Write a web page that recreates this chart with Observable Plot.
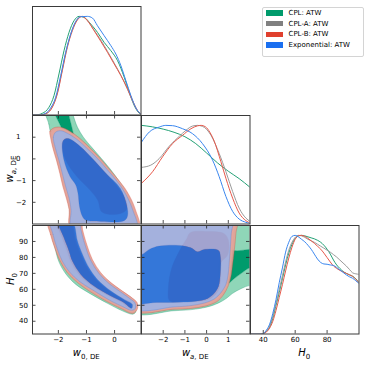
<!DOCTYPE html>
<html><head><meta charset="utf-8">
<script src="https://cdn.jsdelivr.net/npm/d3@7"></script>
<script src="https://cdn.jsdelivr.net/npm/@observablehq/plot@0.6"></script>
<style>
html,body{margin:0;padding:0;background:#fff;}
#wrap{position:relative;width:365px;height:365px;overflow:hidden;font-family:"DejaVu Sans",sans-serif;color:#000;}
#wrap svg{overflow:visible;}
.lab{position:absolute;font-size:10px;white-space:nowrap;line-height:1;transform:translate(-50%,-50%);}
.lab.rot{transform:translate(-50%,-50%) rotate(-90deg);}
.lab i{font-style:italic;}
.lab .sb{font-size:7px;position:relative;top:2.6px;}
#legend{position:absolute;left:262px;top:6.5px;width:100px;height:48px;border:1px solid #d4d4d4;border-radius:2px;background:#fff;}
.lrow{position:absolute;left:0;height:10px;width:100px;}
.lrow .pt{position:absolute;left:3px;top:2.3px;width:16.5px;height:5.4px;}
.lrow .tx{position:absolute;left:25.5px;top:0;font-size:7px;line-height:10px;white-space:nowrap;}
</style></head>
<body><div id="wrap"></div>
<script>
// ---------- ticks and axis ranges ----------
const w0Ticks = [-2, -1, 0];
const waTicks = [-2, -1, 0, 1];
const h0TicksY = [40, 50, 60, 70, 80, 90];
const h0TicksX = [40, 60, 80];
const w0Domain = [-2.92, 0.94];
const waDomain = [-3, 2];
const h0Domain = [32, 100];
const densDomain = [0, 1.1];

// ---------- series ----------
const seriesNames = ["CPL: ATW", "CPL-A: ATW", "CPL-B: ATW", "Exponential: ATW"];
const legendColors = ["#009b6c", "#808080", "#e0402e", "#1a6ff0"];
const lineColors = ["#23a075", "#9a9a9a", "#e6584a", "#3a86ee"];
const outerFills = ["#8fd6b8", "#c0c0c0", "#eaa095", "#99b3e9"];
const innerFills = ["#009b6c", "#8c8c8c", "#e0402e", "#156fe4"];
const edgeColors = ["#1d9a70", "#8a8a8a", "#d9503f", "#5a86d8"];
const fillAlphas = [1, 0.85, 0.85, 0.85];

// ---------- 1D marginals: w0 ----------
const w0Dens_CPL = [[-2.92,0],[-2.811,0],[-2.573,0.017],[-2.335,0.078],[-2.156,0.196],[-1.978,0.416],[-1.799,0.652],[-1.62,0.838],[-1.442,0.956],[-1.263,1.0],[-1.085,0.99],[-0.847,0.922],[-0.609,0.838],[-0.371,0.736],[-0.132,0.652],[0.106,0.551],[0.344,0.382],[0.522,0.23],[0.701,0.095],[0.879,0.017],[0.94,0.005]];
const w0Dens_CPLA = [[-2.92,0],[-2.65,0],[-2.4,0.02],[-2.22,0.08],[-2.04,0.22],[-1.86,0.46],[-1.68,0.7],[-1.5,0.87],[-1.32,0.97],[-1.2,1.0],[-0.97,0.96],[-0.73,0.86],[-0.49,0.76],[-0.25,0.645],[-0.01,0.525],[0.23,0.4],[0.46,0.26],[0.64,0.14],[0.82,0.04],[0.94,0.01]];
const w0Dens_CPLB = [[-2.92,0],[-2.632,0],[-2.394,0.02],[-2.216,0.078],[-2.037,0.213],[-1.859,0.449],[-1.68,0.686],[-1.501,0.855],[-1.323,0.963],[-1.144,1.0],[-0.966,0.956],[-0.728,0.855],[-0.49,0.747],[-0.251,0.635],[-0.013,0.517],[0.225,0.399],[0.463,0.264],[0.641,0.145],[0.82,0.044],[0.94,0.008]];
const w0Dens_Exp = [[-2.92,0],[-2.692,0],[-2.454,0.017],[-2.275,0.071],[-2.097,0.179],[-1.918,0.399],[-1.74,0.635],[-1.561,0.821],[-1.382,0.949],[-1.204,0.997],[-0.966,1.0],[-0.787,0.983],[-0.609,0.905],[-0.371,0.804],[-0.132,0.703],[0.046,0.618],[0.225,0.5],[0.403,0.348],[0.582,0.196],[0.76,0.071],[0.94,0.008]];

// ---------- 1D marginals: wa ----------
const waDens_CPL = [[-3,1.0],[-2.5,0.985],[-2.0,0.962],[-1.5,0.93],[-1.0,0.885],[-0.5,0.815],[0.0,0.72],[0.5,0.62],[1.0,0.535],[1.5,0.46],[2.0,0.372]];
const waDens_CPLA = [[-3,0.574],[-2.57,0.597],[-2.18,0.664],[-1.72,0.789],[-1.26,0.889],[-0.95,0.95],[-0.65,0.993],[-0.42,1.0],[-0.19,0.99],[0.2,0.9],[0.58,0.715],[0.89,0.53],[1.2,0.329],[1.5,0.161],[1.81,0.06],[2.0,0.027]];
const waDens_CPLB = [[-3,0.413],[-2.49,0.53],[-2.03,0.681],[-1.57,0.815],[-1.11,0.899],[-0.72,0.966],[-0.42,0.995],[-0.25,1.0],[-0.05,0.985],[0.15,0.93],[0.35,0.84],[0.66,0.631],[0.89,0.463],[1.2,0.262],[1.5,0.111],[1.81,0.034],[2.0,0.01]];
const waDens_Exp = [[-3,0.83],[-2.64,0.933],[-2.18,0.983],[-1.88,1.0],[-1.57,0.997],[-1.11,0.966],[-0.65,0.916],[-0.19,0.815],[0.275,0.648],[0.58,0.48],[0.89,0.279],[1.2,0.128],[1.5,0.05],[1.81,0.017],[2.0,0.005]];

// ---------- 1D marginals: H0 ----------
const h0Dens_CPL = [[32,0],[38,0],[40,0.004],[42,0.025],[44,0.07],[46,0.16],[48,0.29],[50,0.42],[52,0.56],[54,0.7],[56,0.82],[58,0.91],[60,0.97],[62,0.995],[64,1.0],[66,0.995],[68,0.985],[70,0.975],[72,0.965],[74,0.95],[76,0.93],[78,0.9],[80,0.86],[82,0.81],[84,0.75],[86,0.7],[88,0.665],[90,0.635],[92,0.615],[94,0.6],[96,0.585],[98,0.56],[100,0.52]];
const h0Dens_CPLA = [[32,0],[38,0],[40,0.004],[42,0.03],[44,0.08],[46,0.18],[48,0.31],[50,0.45],[52,0.59],[54,0.73],[56,0.85],[58,0.93],[60,0.98],[62,1.0],[64,0.995],[66,0.98],[68,0.96],[70,0.945],[72,0.93],[74,0.91],[76,0.89],[78,0.87],[80,0.85],[82,0.83],[84,0.805],[86,0.78],[88,0.75],[90,0.72],[92,0.69],[94,0.655],[96,0.62],[98,0.61],[100,0.605]];
const h0Dens_CPLB = [[32,0],[38,0],[40,0.003],[42,0.02],[44,0.06],[46,0.13],[48,0.24],[50,0.37],[52,0.5],[54,0.64],[56,0.77],[58,0.88],[60,0.96],[62,0.995],[64,1.0],[66,0.99],[68,0.97],[70,0.945],[72,0.92],[74,0.89],[76,0.86],[78,0.82],[80,0.775],[82,0.73],[84,0.69],[86,0.665],[88,0.645],[90,0.63],[92,0.615],[94,0.6],[96,0.585],[98,0.555],[100,0.52]];
const h0Dens_Exp = [[32,0],[38,0],[40,0.005],[42,0.04],[44,0.1],[46,0.21],[48,0.35],[50,0.52],[52,0.67],[54,0.83],[56,0.93],[58,0.99],[60,1.0],[62,0.985],[64,0.96],[66,0.935],[68,0.9],[70,0.86],[72,0.81],[74,0.76],[76,0.725],[78,0.71],[80,0.707],[82,0.7],[84,0.695],[86,0.675],[88,0.65],[90,0.625],[92,0.6],[94,0.58],[96,0.565],[98,0.54],[100,0.51]];

// ---------- 2D contours: (w0, wa) ----------
const w0wa_CPL_outer = [[-2.45,2.25],[-2.34,1.61],[-2.25,1.0],[-2.16,0.47],[-2.04,-0.06],[-1.92,-0.66],[-1.8,-1.27],[-1.68,-1.8],[-1.6,-2.33],[-1.51,-3.3],[0.78,-3.3],[0.68,-2.33],[0.4,-1.5],[0.13,-0.97],[-0.13,-0.51],[-0.47,0.02],[-0.79,0.5],[-1.11,1.0],[-1.32,1.46],[-1.47,1.99],[-1.54,2.25]];
const w0wa_CPL_inner = [[-2.2,2.3],[-2.1,1.99],[-1.95,1.6],[-1.82,1.2],[-1.75,0.7],[-1.5,0.5],[-1.45,1.0],[-1.52,1.46],[-1.62,1.99],[-1.66,2.3]];
const w0wa_CPLA_outer = [[-2.12,1.4],[-2.26,1.25],[-2.25,1.0],[-2.16,0.47],[-2.04,-0.06],[-1.92,-0.66],[-1.81,-1.27],[-1.69,-1.8],[-1.59,-2.33],[-1.51,-3.3],[0.82,-3.3],[0.71,-2.33],[0.41,-1.5],[0.11,-0.97],[-0.19,-0.51],[-0.54,0.02],[-0.9,0.5],[-1.26,0.94],[-1.64,1.27],[-1.92,1.42]];
const w0wa_CPLA_inner = [[-1.78,0.9],[-1.83,0.68],[-1.73,0.0],[-1.33,-0.78],[-0.88,-1.38],[-0.58,-1.88],[-0.43,-2.42],[0.08,-2.52],[0.39,-2.33],[0.39,-1.95],[0.13,-1.38],[-0.33,-0.66],[-0.81,0.02],[-1.22,0.55],[-1.55,0.86],[-1.68,0.93]];
const w0wa_CPLB_outer = [[-2.16,1.43],[-2.3,1.27],[-2.28,1.0],[-2.19,0.47],[-2.07,-0.06],[-1.95,-0.66],[-1.84,-1.27],[-1.72,-1.8],[-1.62,-2.33],[-1.54,-3.3],[0.86,-3.3],[0.74,-2.33],[0.44,-1.5],[0.14,-0.97],[-0.16,-0.51],[-0.51,0.02],[-0.87,0.5],[-1.23,0.94],[-1.62,1.3],[-1.92,1.46]];
const w0wa_CPLB_inner = [[-1.8,0.92],[-1.86,0.7],[-1.76,0.0],[-1.35,-0.8],[-0.9,-1.4],[-0.6,-1.9],[-0.45,-2.45],[0.1,-2.55],[0.42,-2.35],[0.42,-1.95],[0.16,-1.38],[-0.31,-0.66],[-0.79,0.02],[-1.2,0.55],[-1.54,0.88],[-1.68,0.95]];
const w0wa_Exp_outer = [[-2.1,1.23],[-2.18,1.0],[-2.1,0.47],[-1.98,-0.06],[-1.86,-0.66],[-1.74,-1.27],[-1.62,-1.8],[-1.55,-2.33],[-1.5,-3.3],[0.78,-3.3],[0.64,-2.33],[0.34,-1.5],[0.05,-0.97],[-0.25,-0.51],[-0.61,0.02],[-0.97,0.47],[-1.32,0.88],[-1.68,1.18],[-1.92,1.3]];
const w0wa_Exp_inner = [[-1.8,0.88],[-1.86,0.7],[-1.8,-0.06],[-1.58,-0.82],[-1.38,-1.2],[-1.3,-1.6],[-1.25,-2.18],[-1.15,-2.63],[-1.03,-2.82],[-0.49,-2.88],[0.34,-2.85],[0.46,-2.63],[0.44,-2.18],[0.2,-1.35],[-0.31,-0.66],[-0.79,0.02],[-1.2,0.55],[-1.54,0.88],[-1.68,0.94]];

// ---------- 2D contours: (w0, H0) ----------
const w0h0_CPL_outer = [[-2.34,102.7],[-2.25,94.4],[-2.12,86.0],[-1.99,77.7],[-1.74,69.8],[-1.38,63.1],[-0.87,57.3],[-0.25,51.2],[0.28,46.5],[0.64,44.4],[0.74,45.4],[0.76,48.1],[0.7,51.7],[0.22,58.5],[-0.19,63.9],[-0.55,70.4],[-0.85,78.7],[-1.06,88.1],[-1.23,97.5],[-1.29,102.7]];
const w0h0_CPL_inner = [[-2.06,102],[-1.88,92],[-1.72,84],[-1.6,77.7],[-1.3,69.4],[-0.82,62],[-0.22,55.6],[0.26,51.4],[0.46,48.6],[0.56,47.8],[0.58,50.4],[0.27,53.6],[-0.2,58.8],[-0.68,66.2],[-0.98,73.5],[-1.2,81.9],[-1.38,90.2],[-1.56,102]];
const w0h0_CPLA_outer = [[-2.32,102.7],[-2.24,94.4],[-2.1,86.0],[-1.91,77.7],[-1.65,70.4],[-1.29,64.4],[-0.82,58.6],[-0.23,52.5],[0.29,48.0],[0.58,45.6],[0.68,45.8],[0.78,48.3],[0.77,51.7],[0.61,54.6],[0.25,59.0],[-0.16,64.2],[-0.52,70.4],[-0.82,78.7],[-1.02,88.1],[-1.17,97.5],[-1.23,102.7]];
const w0h0_CPLA_inner = [[-2.1,102],[-1.92,92.27],[-1.74,83.94],[-1.62,77.69],[-1.32,69.36],[-0.85,62.07],[-0.25,55.82],[0.22,51.65],[0.42,48.94],[0.52,48.0],[0.55,50.4],[0.24,53.7],[-0.23,58.9],[-0.71,66.2],[-1.01,73.5],[-1.24,81.9],[-1.42,90.2],[-1.6,102]];
const w0h0_CPLB_outer = [[-2.36,102.7],[-2.28,94.4],[-2.13,86.0],[-1.94,77.7],[-1.68,70.4],[-1.32,64.2],[-0.85,58.3],[-0.25,52.1],[0.28,47.5],[0.58,45.0],[0.7,45.2],[0.82,48.1],[0.8,51.7],[0.64,54.4],[0.28,58.9],[-0.13,64.2],[-0.49,70.4],[-0.79,78.7],[-0.99,88.1],[-1.14,97.5],[-1.2,102.7]];
const w0h0_CPLB_inner = [[-2.04,102],[-1.86,92.27],[-1.68,83.94],[-1.56,77.69],[-1.26,69.36],[-0.79,62.07],[-0.19,55.82],[0.28,51.65],[0.47,48.94],[0.57,48.0],[0.59,50.5],[0.29,53.7],[-0.18,58.9],[-0.66,66.2],[-0.96,73.5],[-1.19,81.9],[-1.37,90.2],[-1.55,102]];
const w0h0_Exp_outer = [[-2.28,102.7],[-2.19,94.4],[-2.05,86.0],[-1.86,77.7],[-1.6,70.8],[-1.24,64.8],[-0.76,59.4],[-0.19,53.3],[0.32,48.9],[0.58,46.9],[0.7,47.3],[0.75,49.0],[0.72,51.7],[0.58,53.7],[0.22,58.3],[-0.19,63.5],[-0.55,69.8],[-0.85,78.1],[-1.05,87.7],[-1.2,97.5],[-1.26,102.7]];
const w0h0_Exp_inner = [[-1.98,102],[-1.8,92.27],[-1.62,83.94],[-1.5,77.69],[-1.2,69.36],[-0.73,62.07],[-0.13,55.82],[0.34,51.65],[0.52,48.94],[0.61,48.1],[0.63,50.6],[0.34,53.7],[-0.13,58.9],[-0.61,66.2],[-0.91,73.5],[-1.14,81.9],[-1.32,90.2],[-1.5,102]];

// ---------- 2D contours: (wa, H0) ----------
const wah0_CPL_outer = [[-3.5,106],[2.6,106],[2.6,62.5],[2.0,62.5],[1.6,60.5],[1.2,57.5],[0.9,54.2],[0.6,51.8],[0.2,49.6],[-0.5,47.6],[-1.5,46.6],[-3.5,46.3]];
const wah0_CPL_inner = [[0.85,84.5],[1.4,84.2],[2.6,84.5],[2.6,73],[2.0,73.5],[1.6,70.0],[1.25,66.5],[0.95,63.5],[0.6,66],[0.55,76]];
const wah0_CPLA_outer = [[-3.5,106],[1.3,106],[1.27,95],[1.2,85],[1.12,75],[1.05,68],[0.93,62],[0.71,56.8],[0.4,52.5],[-0.08,49.8],[-0.72,48.4],[-1.5,47.9],[-3.5,47.8]];
const wah0_CPLA_inner = [[-0.8,95.8],[0.04,96.5],[0.78,94.8],[0.98,90.5],[0.99,84],[0.9,80.5],[0.66,77],[0.62,68],[0.56,61],[0.37,56.5],[0.0,53.4],[-1.0,52.9],[-1.68,53.1],[-1.76,61.0],[-1.62,73.5],[-1.16,86.8],[-0.95,91.8]];
const wah0_CPLB_outer = [[-3.5,106],[1.38,106],[1.35,95],[1.28,85],[1.19,75],[1.12,68],[0.99,62],[0.77,56.5],[0.46,52.2],[-0.05,49.5],[-0.72,48.0],[-1.5,47.5],[-3.5,47.4]];
const wah0_CPLB_inner = [[-0.75,95.5],[0.05,96.2],[0.8,95.0],[1.0,91],[1.02,84],[0.93,80.5],[0.68,77],[0.65,68],[0.59,61],[0.4,56.5],[0.0,53.2],[-1.0,52.6],[-1.7,52.8],[-1.76,61],[-1.6,73.5],[-1.15,86.5],[-0.92,91.5]];
const wah0_Exp_outer = [[-3.5,106],[1.15,106],[1.13,94.4],[1.07,81.9],[1.01,71.4],[0.98,68.3],[0.89,63.1],[0.66,57.9],[0.35,53.9],[-0.11,51.4],[-0.72,49.8],[-1.49,49.0],[-3.5,48.8]];
const wah0_Exp_inner = [[-3.72,80.8],[-2.98,81.9],[-2.64,85.0],[-2.18,87.1],[-1.26,87.5],[-0.72,86.0],[-0.42,83.5],[-0.11,85.0],[0.55,84.4],[0.64,80],[0.63,69.4],[0.55,62],[0.35,57.5],[0.05,54.3],[-0.5,52.5],[-1.26,51.9],[-2.34,51.8],[-3.72,51.8]];

// ---------- layout ----------
const S = 108.5;
const colX = [32, 141, 250];
const rowY = [5.5, 115, 224.5];
const wrap = document.getElementById("wrap");
const fmt = d => (d < 0 ? "\u2212" + Math.abs(d) : String(d));
const TICK = 3.5;

function ring(outer, inner) {
  const same = Math.sign(d3.polygonArea(outer)) === Math.sign(d3.polygonArea(inner));
  const hole = same ? inner.slice().reverse() : inner;
  return [...outer, [NaN, NaN], ...hole];
}

function contourMarks(outers, inners) {
  const m = [];
  outers.forEach((o, s) => {
    m.push(Plot.line(ring(o, inners[s]), {x: d => d[0], y: d => d[1], curve: "catmull-rom-closed",
      fill: outerFills[s], fillOpacity: fillAlphas[s], stroke: edgeColors[s], strokeWidth: 0.5,
      strokeOpacity: 0.7, clip: true}));
    m.push(Plot.line(inners[s], {x: d => d[0], y: d => d[1], curve: "catmull-rom-closed",
      fill: innerFills[s], fillOpacity: fillAlphas[s], stroke: "none", clip: true}));
  });
  return m;
}

function densMarks(curves) {
  return curves.map((c, s) => Plot.line(c, {x: d => d[0], y: d => d[1], curve: "monotone-x",
    stroke: lineColors[s], strokeWidth: 1, clip: true}));
}

function panel({col, row, xdom, ydom, xticks, yticks, marks, xLabels, yLabels, yAnchor = "end", yDx = -4.5}) {
  const ly = (ydom[1] - ydom[0]) * TICK / S, lx = (xdom[1] - xdom[0]) * TICK / S;
  const ts = {stroke: "#222", strokeWidth: 0.8};
  const m = [...marks];
  m.push(Plot.ruleX(xticks, {x: d => d, y1: ydom[0], y2: ydom[0] + ly, ...ts}));
  if (yticks) {
    m.push(Plot.ruleX(xticks, {x: d => d, y1: ydom[1], y2: ydom[1] - ly, ...ts}));
    m.push(Plot.ruleY(yticks, {y: d => d, x1: xdom[0], x2: xdom[0] + lx, ...ts}));
    m.push(Plot.ruleY(yticks, {y: d => d, x1: xdom[1], x2: xdom[1] - lx, ...ts}));
  }
  m.push(Plot.frame({stroke: "#3a3a3a", strokeWidth: 1}));
  if (xLabels) m.push(Plot.text(xticks, {x: d => d, y: ydom[0], text: fmt, dy: 6, fontSize: 7, fill: "#000"}));
  if (yLabels) m.push(Plot.text(yticks, {x: xdom[0], y: d => d, text: fmt, dx: yDx, textAnchor: yAnchor, fontSize: 7, fill: "#000"}));
  const p = Plot.plot({
    width: S, height: S, margin: 0,
    x: {domain: xdom, axis: null}, y: {domain: ydom, axis: null},
    style: {overflow: "visible", background: "transparent", fontFamily: "DejaVu Sans"},
    marks: m
  });
  p.style.position = "absolute";
  p.style.left = colX[col] + "px";
  p.style.top = rowY[row] + "px";
  wrap.appendChild(p);
}

// 1D panels
panel({col: 0, row: 0, xdom: w0Domain, ydom: densDomain, xticks: w0Ticks,
  marks: densMarks([w0Dens_CPL, w0Dens_CPLA, w0Dens_CPLB, w0Dens_Exp])});
panel({col: 1, row: 1, xdom: waDomain, ydom: densDomain, xticks: waTicks,
  marks: densMarks([waDens_CPL, waDens_CPLA, waDens_CPLB, waDens_Exp])});
panel({col: 2, row: 2, xdom: h0Domain, ydom: densDomain, xticks: h0TicksX, xLabels: true,
  marks: densMarks([h0Dens_CPL, h0Dens_CPLA, h0Dens_CPLB, h0Dens_Exp])});

// 2D panels
panel({col: 0, row: 1, xdom: w0Domain, ydom: waDomain, xticks: w0Ticks, yticks: waTicks, yLabels: true,
  yAnchor: "start", yDx: -16.5,
  marks: contourMarks([w0wa_CPL_outer, w0wa_CPLA_outer, w0wa_CPLB_outer, w0wa_Exp_outer],
                      [w0wa_CPL_inner, w0wa_CPLA_inner, w0wa_CPLB_inner, w0wa_Exp_inner])});
panel({col: 0, row: 2, xdom: w0Domain, ydom: h0Domain, xticks: w0Ticks, yticks: h0TicksY, xLabels: true, yLabels: true,
  marks: contourMarks([w0h0_CPL_outer, w0h0_CPLA_outer, w0h0_CPLB_outer, w0h0_Exp_outer],
                      [w0h0_CPL_inner, w0h0_CPLA_inner, w0h0_CPLB_inner, w0h0_Exp_inner])});
panel({col: 1, row: 2, xdom: waDomain, ydom: h0Domain, xticks: waTicks, yticks: h0TicksY, xLabels: true,
  marks: contourMarks([wah0_CPL_outer, wah0_CPLA_outer, wah0_CPLB_outer, wah0_Exp_outer],
                      [wah0_CPL_inner, wah0_CPLA_inner, wah0_CPLB_inner, wah0_Exp_inner])});

// axis labels
function addLabel(html, x, y, rot) {
  const d = document.createElement("div");
  d.className = "lab" + (rot ? " rot" : "");
  d.style.left = x + "px"; d.style.top = y + "px";
  d.innerHTML = html;
  wrap.appendChild(d);
}
addLabel('<i>w</i><span class="sb">0, DE</span>', colX[0] + S / 2, 353);
addLabel('<i>w</i><span class="sb"><i>a</i>, DE</span>', colX[1] + S / 2, 353);
addLabel('<i>H</i><span class="sb">0</span>', colX[2] + S / 2, 353);
addLabel('<i>w</i><span class="sb"><i>a</i>, DE</span>', 10, rowY[1] + S / 2, true);
addLabel('<i>H</i><span class="sb">0</span>', 10.5, rowY[2] + S / 2, true);

// legend
const lg = document.createElement("div");
lg.id = "legend";
seriesNames.forEach((n, i) => {
  const r = document.createElement("div");
  r.className = "lrow";
  r.style.top = (0.5 + i * 10.7) + "px";
  r.innerHTML = '<div class="pt" style="background:' + legendColors[i] + '"></div><div class="tx">' + n + '</div>';
  lg.appendChild(r);
});
wrap.appendChild(lg);
</script>
</body></html>
